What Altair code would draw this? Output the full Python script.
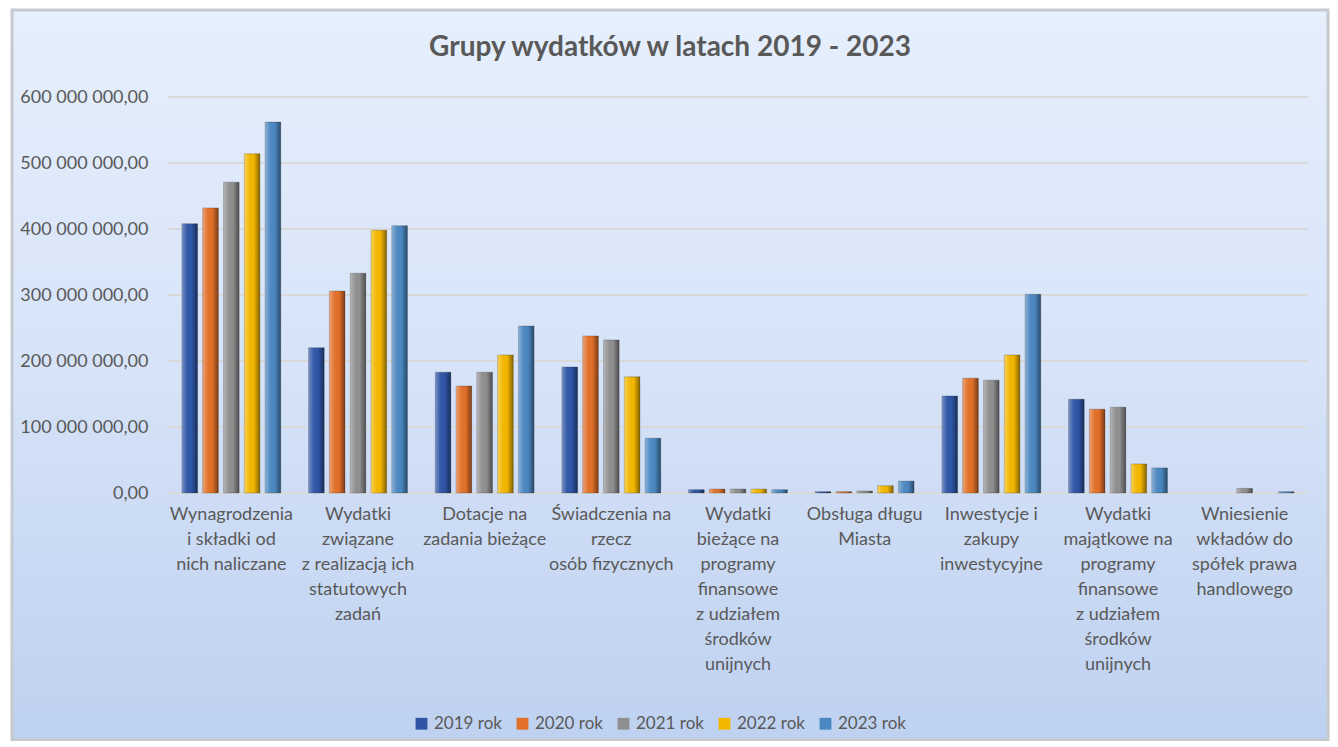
import altair as alt
import pandas as pd

categories = [
    "Wynagrodzenia|i składki od|nich naliczane",
    "Wydatki|związane|z realizacją ich|statutowych|zadań",
    "Dotacje na|zadania bieżące",
    "Świadczenia na|rzecz|osób fizycznych",
    "Wydatki|bieżące na|programy|finansowe|z udziałem|środków|unijnych",
    "Obsługa długu|Miasta",
    "Inwestycje i|zakupy|inwestycyjne",
    "Wydatki|majątkowe na|programy|finansowe|z udziałem|środków|unijnych",
    "Wniesienie|wkładów do|spółek prawa|handlowego",
]
years = ["2019 rok", "2020 rok", "2021 rok", "2022 rok", "2023 rok"]
colors = ["#2f56a6", "#e2702a", "#8f8f8f", "#f3b700", "#4b88c2"]

v2019 = [408e6, 220e6, 183e6, 191e6, 5e6, 2e6, 147e6, 142e6, 0]
v2020 = [432e6, 306e6, 162e6, 238e6, 6e6, 2e6, 174e6, 127e6, 0]
v2021 = [471e6, 333e6, 183e6, 232e6, 6e6, 3e6, 171e6, 130e6, 7e6]
v2022 = [514e6, 398e6, 209e6, 176e6, 6e6, 11e6, 209e6, 44e6, 0]
v2023 = [562e6, 405e6, 253e6, 83e6, 5e6, 18e6, 301e6, 38e6, 2e6]
gridvals = [0, 100e6, 200e6, 300e6, 400e6, 500e6, 600e6]
title_text = "Grupy wydatków w latach 2019 - 2023"

series = [v2019, v2020, v2021, v2022, v2023]
rows = []
for y, vals in zip(years, series):
    for c, v in zip(categories, vals):
        rows.append({"kat": c, "rok": y, "val": v})
df = pd.DataFrame(rows)
grid_df = pd.DataFrame({"val": gridvals})
one = pd.DataFrame({"a": [1]})

W, H = 1140, 396
FONT = "Lato"
TXT = "#595959"

yscale = alt.Scale(domain=[0, 600e6], nice=False)
xscale = alt.Scale(domain=categories, paddingInner=0.22, paddingOuter=0.11)

yaxis = alt.Axis(values=gridvals, grid=False, domain=False, ticks=False,
                 labelFont=FONT, labelFontSize=18, labelColor=TXT, labelPadding=20,
                 zindex=1,
                 labelExpr="replace(replace(replace(format(datum.value, ',.2f'), ',', ' '), ',', ' '), '.', ',')")

bg = alt.Chart(one).mark_rect(
    color=alt.Gradient(
        gradient="linear", x1=0, x2=0, y1=0, y2=1,
        stops=[alt.GradientStop(color="#e6effc", offset=0),
               alt.GradientStop(color="#d6e3f8", offset=0.5),
               alt.GradientStop(color="#bed1f0", offset=1)]),
    stroke="#c6c9cf", strokeWidth=3,
).encode(x=alt.value(-156), x2=alt.value(1160), y=alt.value(-87), y2=alt.value(643))

title = alt.Chart(one).mark_text(
    font=FONT, fontSize=28, fontWeight="bold", color=TXT, align="center", baseline="middle"
).encode(x=alt.value(502), y=alt.value(-49), text=alt.value(title_text))

grid = alt.Chart(grid_df).mark_rule(color="#d9d9d9", strokeWidth=2).encode(
    y=alt.Y("val:Q", scale=yscale, axis=yaxis, title=None),
    x=alt.value(0), x2=alt.value(W),
)

xenc = alt.X("kat:N", scale=xscale, sort=categories, title=None,
             axis=alt.Axis(labelExpr="split(datum.label, '|')", labelAngle=0,
                           labelFont=FONT, labelFontSize=18, labelColor=TXT,
                           labelLineHeight=25, labelPadding=12, labelLimit=300,
                           labelBaseline="top", domain=False, ticks=False, grid=False,
                           zindex=1))
yenc = alt.Y("val:Q", scale=yscale, title=None, axis=yaxis)
xoff = alt.XOffset("rok:N", sort=years, scale=alt.Scale(domain=years, paddingInner=0.25, paddingOuter=0.0))

bars = alt.Chart(df).transform_filter("datum.val > 0").mark_bar(
    stroke="#33333355", strokeWidth=0.8
).encode(
    x=xenc, y=yenc, xOffset=xoff,
    color=alt.Color("rok:N", sort=years, scale=alt.Scale(domain=years, range=colors),
                    legend=alt.Legend(title=None, orient="none", legendX=245, legendY=618,
                                      direction="horizontal", symbolType="square",
                                      symbolSize=140, symbolStrokeWidth=0,
                                      labelFont=FONT, labelFontSize=17, labelColor=TXT,
                                      columnPadding=12, labelOffset=4)),
)

shade = alt.Chart(df).transform_filter("datum.val > 0").mark_bar(
    color=alt.Gradient(
        gradient="linear", x1=0, x2=1, y1=0, y2=0,
        stops=[alt.GradientStop(color="rgba(255,255,255,0.35)", offset=0),
               alt.GradientStop(color="rgba(255,255,255,0.05)", offset=0.3),
               alt.GradientStop(color="rgba(0,0,0,0.0)", offset=0.6),
               alt.GradientStop(color="rgba(0,0,0,0.45)", offset=1)]),
).encode(x=xenc, y=yenc, xOffset=xoff)

chart = alt.layer(bg, title, grid, bars, shade).properties(
    width=W, height=H,
    autosize=alt.AutoSizeParams(type="none"),
    padding={"left": 160, "top": 89, "right": 22, "bottom": 248},
    background="white",
).configure_view(stroke=None)

chart.save("out.html", embed_options={"renderer": "svg", "actions": False})
